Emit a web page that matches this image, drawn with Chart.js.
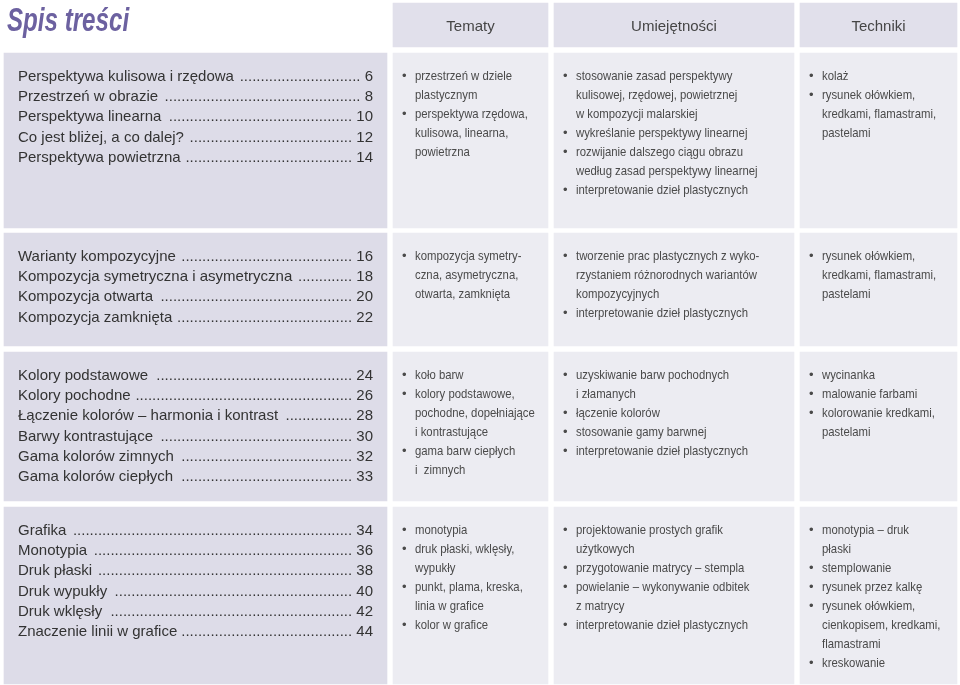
<!DOCTYPE html>
<html lang="pl">
<head>
<meta charset="utf-8">
<title>Spis treści</title>
<script src="https://cdn.jsdelivr.net/npm/chart.js@4.4.1/dist/chart.umd.min.js"></script>
<style>
  html, body { margin: 0; padding: 0; background: #ffffff; }
  #wrap { width: 960px; height: 685px; }
</style>
</head>
<body>
<div id="wrap"><canvas id="c" width="960" height="685"></canvas></div>
<script>
// ---------- DATA ----------
const pageTitle = 'Spis treści';
const columnHeaders = ['Tematy', 'Umiejętności', 'Techniki'];
const sectionNames = ['Perspektywa', 'Kompozycja', 'Kolory', 'Grafika'];

const tocTitles = [
  ['Perspektywa kulisowa i rzędowa ', 'Przestrzeń w obrazie ', 'Perspektywa linearna ', 'Co jest bliżej, a co dalej? ', 'Perspektywa powietrzna '],
  ['Warianty kompozycyjne ', 'Kompozycja symetryczna i asymetryczna ', 'Kompozycja otwarta ', 'Kompozycja zamknięta '],
  ['Kolory podstawowe ', 'Kolory pochodne ', 'Łączenie kolorów – harmonia i kontrast ', 'Barwy kontrastujące ', 'Gama kolorów zimnych ', 'Gama kolorów ciepłych '],
  ['Grafika ', 'Monotypia ', 'Druk płaski ', 'Druk wypukły ', 'Druk wklęsły ', 'Znaczenie linii w grafice']
];
const tocPages = [
  [6, 8, 10, 12, 14],
  [16, 18, 20, 22],
  [24, 26, 28, 30, 32, 33],
  [34, 36, 38, 40, 42, 44]
];
const tematy = [
  ['przestrzeń w dziele\nplastycznym', 'perspektywa rzędowa,\nkulisowa, linearna,\npowietrzna'],
  ['kompozycja symetry-\nczna, asymetryczna,\notwarta, zamknięta'],
  ['koło barw', 'kolory podstawowe,\npochodne, dopełniające\ni kontrastujące', 'gama barw ciepłych\ni  zimnych'],
  ['monotypia', 'druk płaski, wklęsły,\nwypukły', 'punkt, plama, kreska,\nlinia w grafice', 'kolor w grafice']
];
const umiejetnosci = [
  ['stosowanie zasad perspektywy\nkulisowej, rzędowej, powietrznej\nw kompozycji malarskiej', 'wykreślanie perspektywy linearnej', 'rozwijanie dalszego ciągu obrazu\nwedług zasad perspektywy linearnej', 'interpretowanie dzieł plastycznych'],
  ['tworzenie prac plastycznych z wyko-\nrzystaniem różnorodnych wariantów\nkompozycyjnych', 'interpretowanie dzieł plastycznych'],
  ['uzyskiwanie barw pochodnych\ni złamanych', 'łączenie kolorów', 'stosowanie gamy barwnej', 'interpretowanie dzieł plastycznych'],
  ['projektowanie prostych grafik\nużytkowych', 'przygotowanie matrycy – stempla', 'powielanie – wykonywanie odbitek\nz matrycy', 'interpretowanie dzieł plastycznych']
];
const techniki = [
  ['kolaż', 'rysunek ołówkiem,\nkredkami, flamastrami,\npastelami'],
  ['rysunek ołówkiem,\nkredkami, flamastrami,\npastelami'],
  ['wycinanka', 'malowanie farbami', 'kolorowanie kredkami,\npastelami'],
  ['monotypia – druk\npłaski', 'stemplowanie', 'rysunek przez kalkę', 'rysunek ołówkiem,\ncienkopisem, kredkami,\nflamastrami', 'kreskowanie']
];

// ---------- LAYOUT (grid of the page, in axis units) ----------
const rowSpans = [[3, 47], [53, 228], [233, 346], [352, 501], [507, 684]];
const colSpans = [[4, 387], [393, 548], [554, 794], [800, 957]];

// ---------- STYLE ----------
const FONT = '"Liberation Sans", Arial, sans-serif';
const COLORS = {
  header: '#e1e0eb',
  toc: '#dddce8',
  cell: '#ececf2',
  title: '#6c61a0',
  tocText: '#333333',
  bulletText: '#4a4a4a',
  headText: '#454545'
};

// ---------- CHART ----------
const datasets = rowSpans.map((span, r) => ({
  label: r === 0 ? 'nagłówek' : sectionNames[r - 1],
  data: colSpans.map(c => ({ x: [c[0], c[1]], y: (span[0] + span[1]) / 2 })),
  barThickness: span[1] - span[0],
  backgroundColor: colSpans.map((c, i) =>
    r === 0 ? (i === 0 ? 'rgba(0,0,0,0)' : COLORS.header) : (i === 0 ? COLORS.toc : COLORS.cell)),
  borderWidth: 0,
  grouped: false
}));

function cellBox(el) {
  const p = el.getProps(['x', 'y', 'base', 'height'], true);
  return {
    left: Math.min(p.x, p.base),
    right: Math.max(p.x, p.base),
    top: p.y - p.height / 2,
    bottom: p.y + p.height / 2,
    cy: p.y
  };
}

function drawBulletList(ctx, box, items) {
  const lineH = 19;
  let line = 0;
  ctx.fillStyle = COLORS.bulletText;
  ctx.textBaseline = 'middle';
  ctx.textAlign = 'left';
  items.forEach(item => {
    item.split('\n').forEach((txt, k) => {
      const y = box.top + 23 + line * lineH;
      if (k === 0) {
        ctx.font = '13px ' + FONT;
        ctx.fillText('•', box.left + 9, y);
      }
      ctx.font = '13.5px ' + FONT;
      ctx.save();
      ctx.translate(box.left + 22, y);
      ctx.scale(0.84, 1);
      ctx.fillText(txt, 0, 0);
      ctx.restore();
      line++;
    });
  });
}

function drawToc(ctx, box, titles, pages) {
  const lineH = 20.3;
  ctx.font = '15px ' + FONT;
  ctx.fillStyle = COLORS.tocText;
  ctx.textBaseline = 'middle';
  const x0 = box.left + 14, x1 = box.right - 14;
  const dotW = ctx.measureText('.').width;
  titles.forEach((t, i) => {
    const y = box.top + 23.5 + i * lineH;
    const pg = ' ' + pages[i];
    const tw = ctx.measureText(t).width;
    const pw = ctx.measureText(pg).width;
    const n = Math.max(0, Math.floor((x1 - pw - x0 - tw) / dotW));
    ctx.textAlign = 'left';
    ctx.fillText(t, x0, y);
    ctx.textAlign = 'right';
    ctx.fillText(pg, x1, y);
    ctx.fillText('.'.repeat(n), x1 - pw, y);
  });
}

const textPlugin = {
  id: 'tocText',
  afterDatasetsDraw(chart) {
    const ctx = chart.ctx;
    ctx.save();
    chart.data.datasets.forEach((ds, r) => {
      const meta = chart.getDatasetMeta(r);
      meta.data.forEach((el, c) => {
        const box = cellBox(el);
        if (r === 0) {
          if (c === 0) {
            ctx.save();
            ctx.fillStyle = COLORS.title;
            ctx.font = 'italic bold 34px ' + FONT;
            ctx.textBaseline = 'alphabetic';
            ctx.textAlign = 'left';
            ctx.translate(box.left + 3, box.top + 28);
            ctx.scale(0.71, 1);
            ctx.fillText(pageTitle, 0, 0);
            ctx.restore();
          } else {
            ctx.fillStyle = COLORS.headText;
            ctx.font = '15px ' + FONT;
            ctx.textAlign = 'center';
            ctx.textBaseline = 'middle';
            ctx.fillText(columnHeaders[c - 1], (box.left + box.right) / 2, box.cy + 2);
          }
          return;
        }
        const s = r - 1;
        if (c === 0) drawToc(ctx, box, tocTitles[s], tocPages[s]);
        else if (c === 1) drawBulletList(ctx, box, tematy[s]);
        else if (c === 2) drawBulletList(ctx, box, umiejetnosci[s]);
        else drawBulletList(ctx, box, techniki[s]);
      });
    });
    ctx.restore();
  }
};

new Chart(document.getElementById('c'), {
  type: 'bar',
  data: { datasets },
  options: {
    indexAxis: 'y',
    responsive: false,
    animation: false,
    layout: { padding: 0 },
    scales: {
      x: { type: 'linear', min: 0, max: 960, display: false },
      y: { type: 'linear', min: 0, max: 685, reverse: true, display: false, offset: false }
    },
    plugins: { legend: { display: false }, tooltip: { enabled: false } }
  },
  plugins: [textPlugin]
});
</script>
</body>
</html>
